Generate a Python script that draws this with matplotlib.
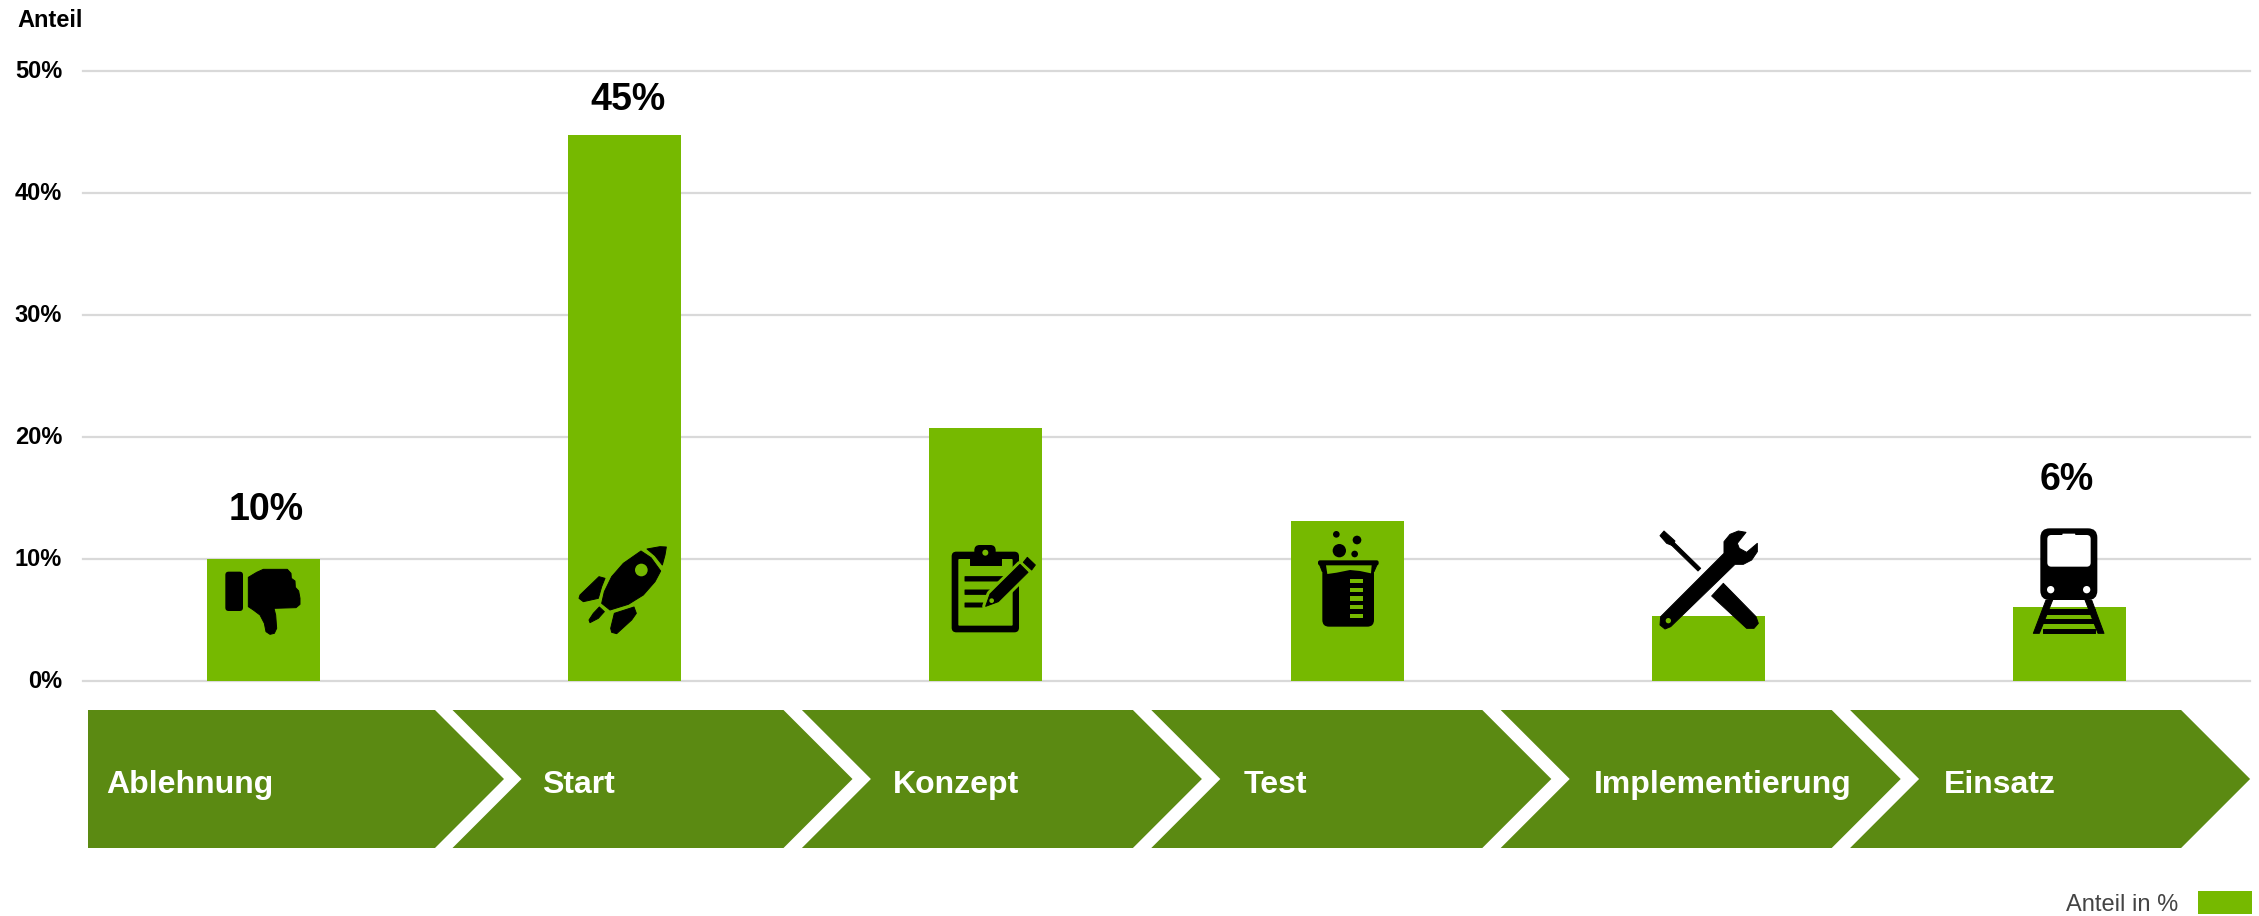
import matplotlib
matplotlib.use('Agg')
from matplotlib import pyplot as plt
from matplotlib.patches import Polygon, Circle, FancyBboxPatch, Rectangle
from matplotlib.transforms import ScaledTranslation

plt.rcParams['font.family'] = ['Liberation Sans', 'DejaVu Sans']

phases = ["Ablehnung", "Start", "Konzept", "Test", "Implementierung", "Einsatz"]
shares = [10.0, 44.7, 20.75, 13.1, 5.3, 6.1]
y_ticks = [0, 10, 20, 30, 40, 50]
y_tick_labels = ["0%", "10%", "20%", "30%", "40%", "50%"]
shown_labels = ["10%", "45%", None, None, None, "6%"]
shown_label_y = [14.0, 47.6, None, None, None, 16.45]
shown_label_dx = [0.008, 0.008, 0, 0, 0, -0.006]

GREEN = "#76b900"
DARK = "#5b8a12"
W, H = 2259, 916

fig = plt.figure(figsize=(W / 100, H / 100), dpi=100, facecolor="white")

# main chart
ax = fig.add_axes([83 / W, 1 - 681 / H, (2250 - 83) / W, (681 - 70.5) / H])
ax.bar(range(6), shares, width=0.313, color=GREEN, zorder=3)
ax.set_xlim(-0.5, 5.5)
ax.set_ylim(0, 50)
ax.set_yticks(y_ticks)
ax.set_yticklabels(y_tick_labels, fontsize=17, fontweight="bold")
ax.set_xticks([])
ax.tick_params(axis="y", length=0, pad=15)
ax.grid(axis="y", color="#d9d9d9", lw=1.6, zorder=1, clip_on=False)
for s in ax.spines.values():
    s.set_visible(False)
ax.set_axisbelow(True)
for lab in ax.get_yticklabels():
    lab.set_transform(lab.get_transform() + ScaledTranslation(0, 1.5 / 100, fig.dpi_scale_trans))
for i, lab in enumerate(shown_labels):
    if lab:
        ax.text(i + shown_label_dx[i], shown_label_y[i], lab, fontsize=27, fontweight="bold",
                ha="center", va="center", zorder=6)

# overlay in pixels for arrows and icons
ov = fig.add_axes([0, 0, 1, 1], zorder=5)
ov.set_xlim(0, W)
ov.set_ylim(H, 0)
ov.axis("off")
ov.patch.set_alpha(0)


def poly(ox, oy, pts, color="black", **kw):
    pts = [(ox + a / 3, oy + b / 3) for a, b in pts]
    kw.setdefault("lw", 0.7)
    kw.setdefault("ec", color)
    ov.add_patch(Polygon(pts, closed=True, fc=color, joinstyle="round", **kw))


def circ(ox, oy, x, y, r, color="black"):
    ov.add_patch(Circle((ox + x / 3, oy + y / 3), r / 3, fc=color, ec="none"))


def rrect(ox, oy, x0, y0, x1, y1, r, color="black"):
    r = r / 3
    ov.add_patch(FancyBboxPatch((ox + x0 / 3 + r, oy + y0 / 3 + r),
                                (x1 - x0) / 3 - 2 * r, (y1 - y0) / 3 - 2 * r,
                                boxstyle=f"round,pad={r},rounding_size={r}",
                                fc=color, ec="none"))


# chevrons
for i, name in enumerate(phases):
    start = 452.5 + (i - 1) * 349.4
    shoulder = start + 331
    tip = shoulder + 69
    top, bot, mid = 710, 848, 779
    if i == 0:
        pts = [(88, top), (435, top), (504, mid), (435, bot), (88, bot)]
        tx = 106
    else:
        pts = [(start, top), (shoulder, top), (tip, mid), (shoulder, bot),
               (start, bot), (start + 69, mid)]
        tx = start + 90 + (i - 1)
    ov.add_patch(Polygon(pts, closed=True, fc=DARK, ec="none"))
    ov.text(tx, 785, name, color="white", fontsize=23, fontweight="bold",
            ha="left", va="center")

# thumb down
ox, oy = 210, 555
rrect(ox, oy, 46, 50, 99, 168, 10)
poly(ox, oy, [(115, 67), (140, 52), (160, 43), (232, 43), (243, 55), (244, 70), (255, 78),
              (256, 97), (266, 108), (270, 130), (270, 148), (258, 158), (192, 160),
              (197, 180), (200, 220), (193, 235), (180, 238), (168, 230), (163, 205),
              (150, 180), (130, 165), (115, 155)])

# rocket
ox, oy = 565, 535
poly(ox, oy, [(246, 42), (285, 35), (304, 36), (300, 60), (292, 90), (270, 62)])
poly(ox, oy, [(228, 48), (258, 68), (287, 108), (270, 140), (235, 180), (190, 208),
              (135, 225), (110, 205), (118, 170), (140, 125), (175, 85)])
circ(ox, oy, 229, 105, 19, GREEN)
poly(ox, oy, [(102, 125), (120, 130), (110, 155), (100, 190), (55, 200), (42, 190), (45, 180)])
poly(ox, oy, [(103, 216), (118, 230), (100, 250), (75, 263), (72, 255), (85, 235)])
poly(ox, oy, [(148, 235), (207, 216), (214, 235), (200, 255), (155, 296), (140, 292), (137, 280)])

# clipboard with pen
ox, oy = 940, 535
rrect(ox, oy, 35, 50, 237, 292, 14)
rrect(ox, oy, 55, 72, 218, 272, 3, GREEN)
rrect(ox, oy, 103, 30, 167, 70, 16)
poly(ox, oy, [(90, 60), (182, 60), (182, 90), (90, 90)])
circ(ox, oy, 136, 53, 9, GREEN)
poly(ox, oy, [(75, 125), (190, 125), (178, 138), (75, 138)])
poly(ox, oy, [(75, 165), (155, 165), (143, 178), (75, 178)])
poly(ox, oy, [(75, 204), (130, 204), (128, 216), (75, 216)])
poly(ox, oy, [(240, 88), (264, 112), (175, 200), (137, 214), (150, 177)], ec=GREEN, lw=5)
poly(ox, oy, [(240, 88), (264, 112), (175, 200), (137, 214), (150, 177)])
poly(ox, oy, [(262, 67), (286, 90), (275, 105), (250, 82)])
circ(ox, oy, 155, 197, 7, GREEN)

# beaker
ox, oy = 1300, 520
circ(ox, oy, 109, 43, 10)
circ(ox, oy, 171, 60, 13)
circ(ox, oy, 118, 92, 20)
circ(ox, oy, 164, 102, 10)
rrect(ox, oy, 54, 121, 236, 136, 6)
rrect(ox, oy, 67, 140, 222, 320, 20)
poly(ox, oy, [(58, 132), (232, 132), (222, 155), (67, 155)])
poly(ox, oy, [(78, 136), (215, 136), (213, 160), (180, 153), (150, 150), (110, 158), (82, 162)],
     color=GREEN, lw=0)
for y0 in [177, 203, 229, 255, 282]:
    poly(ox, oy, [(150, y0), (190, y0), (190, y0 + 13), (150, y0 + 13)], color=GREEN, lw=0)

# tools
ox, oy = 1650, 525
poly(ox, oy, [(30, 32), (42, 18), (75, 48), (68, 62), (50, 55)])
poly(ox, oy, [(72, 52), (152, 130), (144, 138), (64, 60)])
poly(ox, oy, [(220, 175), (318, 275), (325, 295), (312, 310), (290, 310), (185, 213)])
poly(ox, oy, [(32, 275), (222, 85), (222, 50), (240, 28), (265, 18), (288, 22), (262, 55),
              (268, 70), (290, 82), (322, 55), (322, 80), (305, 105), (280, 118), (255, 118),
              (62, 305), (45, 312), (30, 300)])
circ(ox, oy, 55, 287, 8, GREEN)

# train
ox, oy = 2020, 520
rrect(ox, oy, 61, 25, 232, 240, 28)
rrect(ox, oy, 82, 45, 212, 140, 12, "white")
poly(ox, oy, [(125, 50), (128, 41), (165, 41), (168, 50)], color="white", lw=0)
circ(ox, oy, 92, 209, 11, "white")
circ(ox, oy, 200, 209, 11, "white")
poly(ox, oy, [(78, 240), (98, 240), (58, 340), (40, 340)])
poly(ox, oy, [(195, 240), (215, 240), (252, 340), (234, 340)])
for y0 in [268, 297, 326]:
    poly(ox, oy, [(70, y0), (225, y0), (225, y0 + 13), (70, y0 + 13)])

# legend
ov.text(2178, 911, "Anteil in %", color="#444444", fontsize=17, ha="right", va="baseline")
ov.add_patch(Rectangle((2198, 891), 54, 23, fc=GREEN, ec="none"))

# axis title
fig.text(17 / W, 1 - 20.5 / H, "Anteil", fontsize=17, fontweight="bold", ha="left", va="center")

fig.savefig("out.png", dpi=100)
